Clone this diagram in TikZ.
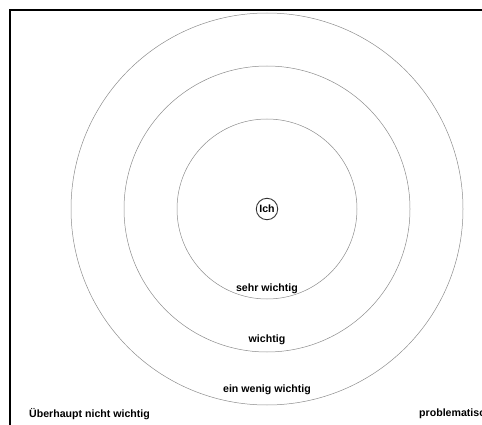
\documentclass[tikz,border=0pt]{standalone}
\usepackage{fontspec}
\setmainfont{Liberation Sans}
\usetikzlibrary{positioning}
\tikzset{
  ring/.style={draw=black!45, line width=0.5pt},
  frame/.style={draw=black, line width=1.6pt},
  lbl/.style={font=\fontsize{10.6}{12}\selectfont\bfseries, inner sep=0pt},
  me/.style={draw=black!80, circle, line width=0.9pt, inner sep=1.6pt, font=\fontsize{10.6}{12}\selectfont\bfseries}
}

\begin{document}
\begin{tikzpicture}[x=1pt,y=-1pt]
  \useasboundingbox (0,0) rectangle (482,425);
  \clip (0,0) rectangle (482,425);
  \draw[frame] (10,10) rectangle (520,460);
  \foreach \r in {90,143,196}{\draw[ring] (267,209) circle[radius=\r];}
  \node[me] (ich) at (267,209) {Ich};
  \node[lbl] (sehr) at (267,289) {sehr wichtig};
  \node[lbl] (mittel) at (267,340) {wichtig};
  \node[lbl] (wenig) at (267,390) {ein wenig wichtig};
  \node[lbl, anchor=west] (nicht) at (29,414) {Überhaupt nicht wichtig};
  \node[lbl, anchor=west] (problem) at (419,414) {problematisch};
\end{tikzpicture}
\end{document}
